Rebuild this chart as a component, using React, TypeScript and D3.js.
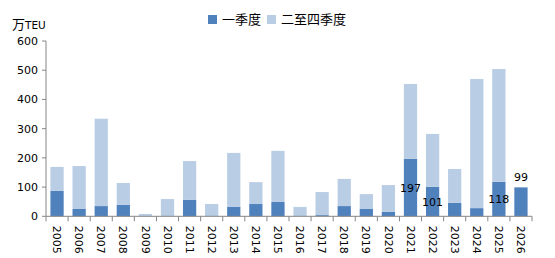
import React from "react";
import * as d3 from "d3";

const years = ["2005","2006","2007","2008","2009","2010","2011","2012","2013","2014","2015","2016","2017","2018","2019","2020","2021","2022","2023","2024","2025","2026"];
const q1 = [87, 25, 35, 39, 0, 0, 56, 0, 32, 42, 49, 0, 4, 35, 25, 15, 197, 101, 46, 28, 118, 99];
const totals = [169, 172, 334, 114, 8, 59, 189, 42, 217, 117, 224, 32, 83, 128, 76, 107, 453, 282, 162, 470, 504, 99];
const yTicks = [0, 100, 200, 300, 400, 500, 600];
const labeledYears = ["2021", "2022", "2025", "2026"];
const labelDy = [29, 15, 17, -10];
const seriesNames = ["一季度", "二至四季度"];

const W = 555, H = 258;
const left = 46, right = 532, top = 41, bottom = 216.3;
const C1 = "#4f81bd", C2 = "#b9cde5";
const AX = "#868686";
const NUMFONT = "'DejaVu Sans', sans-serif";
const CJK = "'Noto Sans CJK SC', sans-serif";

export default function App() {
  const x = d3.scaleBand<string>().domain(years).range([left, right]).paddingInner(0.4).paddingOuter(0.2);
  const y = d3.scaleLinear().domain([0, 600]).range([bottom, top]);
  const step = x.step();
  const rest = totals.map((t, i) => Math.max(0, t - q1[i]));

  return (
    <svg width={W} height={H} style={{ position: "absolute", left: 0, top: 0, background: "#fff" }} fontFamily={NUMFONT}>
      {/* legend */}
      <rect x={208} y={15} width={9} height={9} fill={C1} />
      <text x={222} y={24} fontSize={13} fontFamily={CJK}>{seriesNames[0]}</text>
      <rect x={267} y={15} width={9} height={9} fill={C2} />
      <text x={281} y={24} fontSize={13} fontFamily={CJK}>{seriesNames[1]}</text>

      {/* unit */}
      <text x={12} y={29} fontSize={13}>
        <tspan fontFamily={CJK}>万</tspan>
        <tspan fontSize={10.5} fontFamily={NUMFONT}>TEU</tspan>
      </text>

      {/* bars */}
      {years.map((yr, i) => (
        <g key={yr}>
          {q1[i] > 0 && (
            <rect x={x(yr)} y={y(q1[i])} width={x.bandwidth()} height={y(0) - y(q1[i])} fill={C1} />
          )}
          {rest[i] > 0 && (
            <rect x={x(yr)} y={y(q1[i] + rest[i])} width={x.bandwidth()} height={y(q1[i]) - y(q1[i] + rest[i])} fill={C2} />
          )}
        </g>
      ))}

      {/* labels */}
      {labeledYears.map((yr, k) => {
        const i = years.indexOf(yr);
        return (
          <text key={yr} x={(x(yr) as number) + x.bandwidth() / 2} y={y(q1[i]) + labelDy[k]} dy="0.35em"
            textAnchor="middle" fontSize={11} fill="#000">
            {q1[i]}
          </text>
        );
      })}

      {/* y axis */}
      <line x1={left} x2={left} y1={top} y2={bottom} stroke={AX} />
      {yTicks.map(t => (
        <g key={t}>
          <line x1={left - 4} x2={left} y1={y(t)} y2={y(t)} stroke={AX} />
          <text x={38} y={y(t)} dy="0.35em" textAnchor="end" fontSize={11}>{t}</text>
        </g>
      ))}

      {/* x axis */}
      <line x1={left} x2={right} y1={bottom} y2={bottom} stroke={AX} />
      {d3.range(years.length + 1).map(k => (
        <line key={k} x1={left + k * step} x2={left + k * step} y1={bottom} y2={bottom + 5} stroke={AX} />
      ))}
      {years.map(yr => {
        const cx = (x(yr) as number) + x.bandwidth() / 2;
        return (
          <text key={yr} transform={`translate(${cx},${bottom + 9.5}) rotate(90)`} dy="0.35em" fontSize={11}>{yr}</text>
        );
      })}
    </svg>
  );
}
